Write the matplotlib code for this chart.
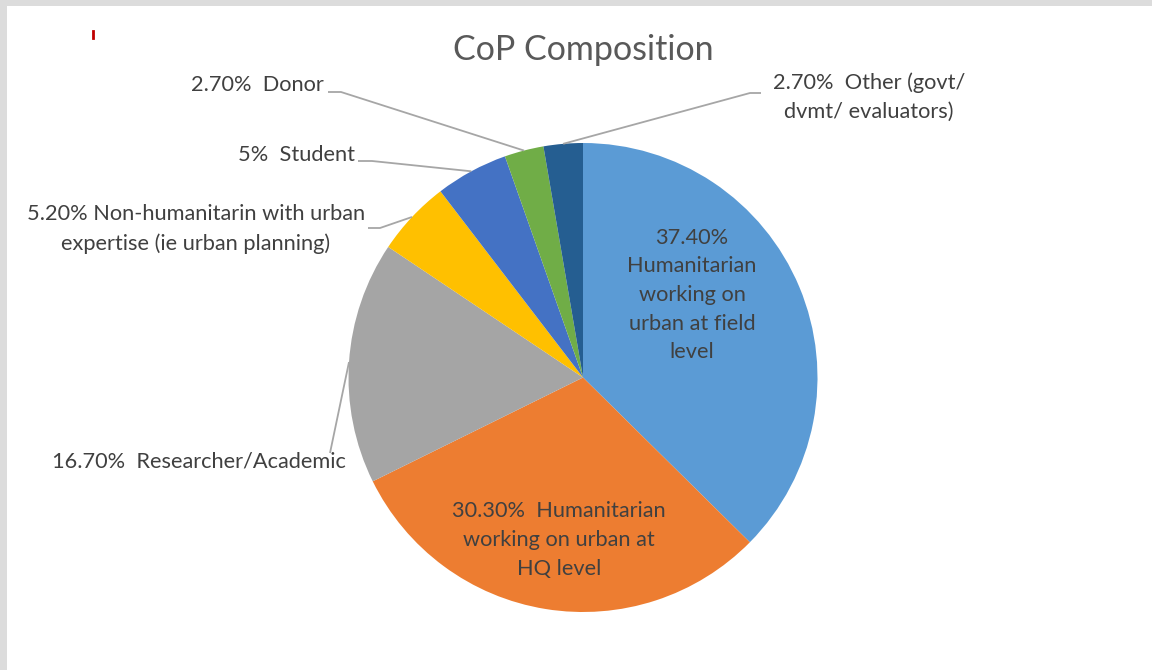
import matplotlib
matplotlib.use('Agg')
import matplotlib.pyplot as plt
import numpy as np
from matplotlib.patches import Rectangle

# ---------------- data ----------------
title = "CoP Composition"
categories = [
    "Humanitarian working on urban at field level",
    "Humanitarian working on urban at HQ level",
    "Researcher/Academic",
    "Non-humanitarin with urban expertise (ie urban planning)",
    "Student",
    "Donor",
    "Other (govt/ dvmt/ evaluators)",
]
values = [37.4, 30.3, 16.7, 5.2, 5.0, 2.7, 2.7]
label_texts = [
    "37.40%\nHumanitarian\nworking on\nurban at field\nlevel",
    "30.30%  Humanitarian\nworking on urban at\nHQ level",
    "16.70%  Researcher/Academic",
    "5.20% Non-humanitarin with urban\nexpertise (ie urban planning)",
    "5%  Student",
    "2.70%  Donor",
    "2.70%  Other (govt/\ndvmt/ evaluators)",
]
colors = ["#5B9BD5", "#ED7D31", "#A5A5A5", "#FFC000", "#4472C4", "#70AD47", "#255E91"]

# ---------------- layout ----------------
W, H = 1152, 670
FONT = ["Lato", "DejaVu Sans"]
TXT = "#404040"
LINE = "#A6A6A6"

fig = plt.figure(figsize=(W / 100, H / 100), dpi=100)
fig.patch.set_facecolor("white")
ax = fig.add_axes([0, 0, 1, 1])

def Y(y):
    return H - y

cx, cy, R = 583, 377.5, 234.5
wedges, _ = ax.pie(values, colors=colors, startangle=90, counterclock=False,
                   center=(cx, Y(cy)), radius=R, wedgeprops=dict(linewidth=0))
ax.set_xlim(0, W)
ax.set_ylim(0, H)
ax.set_aspect('auto')
ax.axis('off')

def edge_point(w):
    th = np.deg2rad((w.theta1 + w.theta2) / 2)
    return w.center[0] + w.r * np.cos(th), w.center[1] + w.r * np.sin(th)

fs = 15.7
ls = 1.54
# inside labels
ax.text(692, Y(295), label_texts[0], ha='center', va='center', fontsize=fs,
        color=TXT, family=FONT, linespacing=ls)
ax.text(559, Y(540), label_texts[1], ha='center', va='center', fontsize=fs,
        color=TXT, family=FONT, linespacing=ls)

# outside labels: text anchor, alignment, leader-line elbow points
outside = {
    2: dict(tx=346, ty=462, ha='right', pts=[(330, 453)]),
    3: dict(tx=196, ty=229, ha='center', pts=[(368, 228), (380, 228)]),
    4: dict(tx=355, ty=155, ha='right', pts=[(358, 161), (372, 161)]),
    5: dict(tx=324, ty=85, ha='right', pts=[(328, 92), (341, 92)]),
    6: dict(tx=869, ty=97, ha='center', pts=[(761, 93), (750, 93)]),
}
for i, o in outside.items():
    ex, ey = edge_point(wedges[i])
    xs = [p[0] for p in o['pts']] + [ex]
    ys = [Y(p[1]) for p in o['pts']] + [ey]
    ax.plot(xs, ys, color=LINE, lw=1.3, solid_capstyle='butt')
    ax.text(o['tx'], Y(o['ty']), label_texts[i], ha=o['ha'], va='center',
            fontsize=fs, color=TXT, family=FONT, linespacing=ls,
            multialignment='center')

ax.text(583, Y(50), title, ha='center', va='center', fontsize=24.5,
        color="#595959", family=FONT)

# frame and small mark
fig.patches.append(Rectangle((0, 1 - 6 / H), 1, 6 / H, transform=fig.transFigure,
                             facecolor="#DCDCDC", edgecolor='none'))
fig.patches.append(Rectangle((0, 0), 7 / W, 1, transform=fig.transFigure,
                             facecolor="#DCDCDC", edgecolor='none'))
ax.plot([92.5, 92.5], [Y(31), Y(38)], color="#C00000", lw=2)

fig.savefig("out.png", dpi=100, facecolor="white")
